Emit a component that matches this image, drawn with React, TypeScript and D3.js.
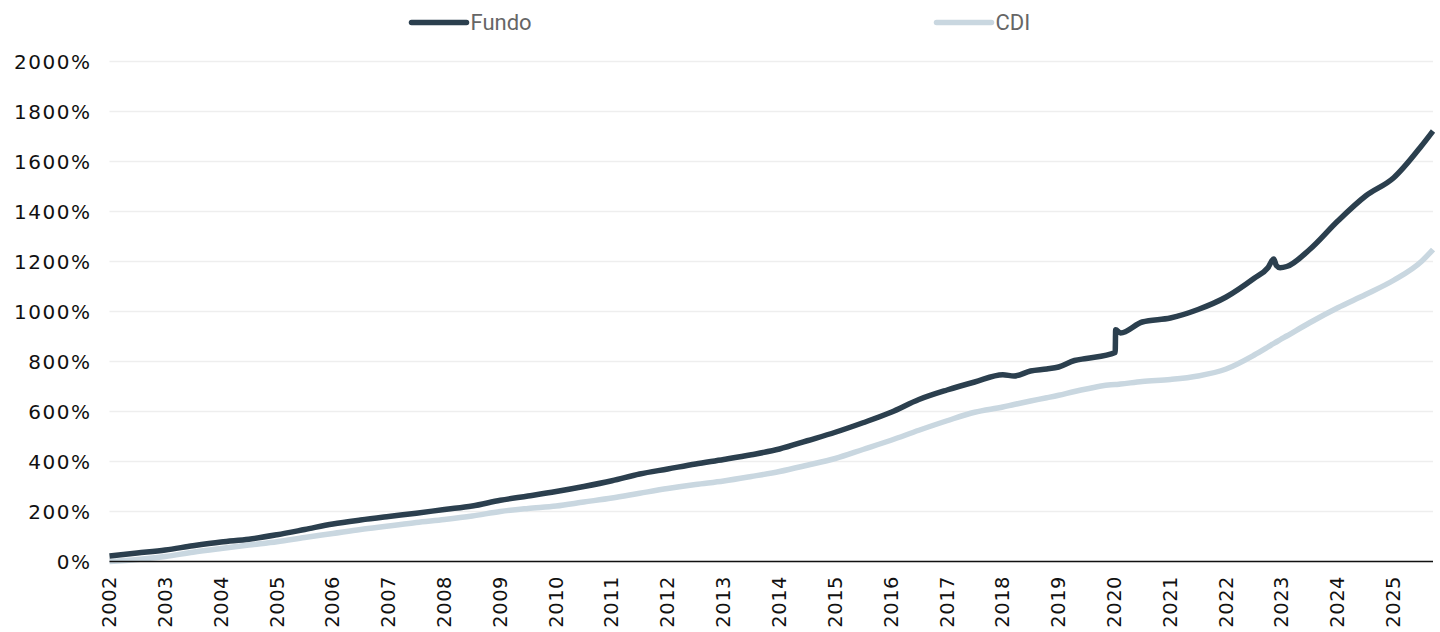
import * as React from 'react';
import * as d3 from 'd3';

const dates = [
  '2002-01-01', '2002-07-01', '2003-01-01', '2003-07-01', '2004-01-01', '2004-07-01',
  '2005-01-01', '2005-07-01', '2006-01-01', '2006-07-01', '2007-01-01', '2007-07-01',
  '2008-01-01', '2008-07-01', '2009-01-01', '2009-07-01', '2010-01-01', '2010-07-01',
  '2011-01-01', '2011-07-01', '2012-01-01', '2012-07-01', '2013-01-01', '2013-07-01',
  '2014-01-01', '2014-07-01', '2015-01-01', '2015-07-01', '2016-01-01', '2016-07-01',
  '2017-01-01', '2017-07-01', '2018-01-01', '2018-03-15', '2018-07-01', '2018-10-15',
  '2019-01-01', '2019-04-15', '2019-07-01', '2020-01-06', '2020-01-09', '2020-02-10',
  '2020-07-01', '2021-01-01', '2021-07-01', '2022-01-01', '2022-07-01', '2022-10-01',
  '2022-11-08', '2022-11-25', '2022-12-20', '2023-02-01', '2023-07-01', '2024-01-01',
  '2024-07-01', '2025-01-01', '2025-07-01', '2025-09-15',
];

const fundo = [
  22, 34, 46, 63, 78, 89,
  107, 128, 150, 166, 180, 193,
  208, 222, 245, 262, 280, 300,
  323, 350, 370, 390, 408, 427,
  450, 483, 517, 555, 597, 648,
  686, 718, 747, 742, 762, 770,
  778, 804, 812, 836, 927, 914,
  958, 974, 1008, 1058, 1132, 1175,
  1210, 1184, 1175, 1180, 1248, 1362,
  1462, 1535, 1662, 1722,
];

const cdi = [
  0, 8, 20, 37, 52, 66,
  79, 96, 112, 128, 142, 156,
  168, 182, 200, 212, 222, 238,
  254, 273, 292, 308, 322, 340,
  360, 385, 412, 448, 485, 525,
  563, 597, 618, 628, 642, 655,
  665, 680, 690, 708, 708, 710,
  720, 728, 742, 770, 825, 858,
  872, 878, 887, 902, 955, 1015,
  1068, 1125, 1200, 1248,
];

const yTicks = [0, 200, 400, 600, 800, 1000, 1200, 1400, 1600, 1800, 2000];
const years = d3.range(2002, 2026);

const seriesNames = ['Fundo', 'CDI'];
const seriesColors = ['#2b3f4e', '#c9d7e0'];

const W = 1440;
const H = 632;
const margin = { top: 61.5, right: 7, bottom: 70.5, left: 109.5 };
const axisFont = '"DejaVu Sans", sans-serif';

interface Point {
  date: Date;
  value: number;
}

const App = () => {
  const parse = d3.timeParse('%Y-%m-%d');
  const fundoData: Point[] = dates.map((d, i) => ({ date: parse(d) as Date, value: fundo[i] }));
  const cdiData: Point[] = dates.map((d, i) => ({ date: parse(d) as Date, value: cdi[i] }));

  const x = d3
    .scaleTime()
    .domain([parse(dates[0]) as Date, parse(dates[dates.length - 1]) as Date])
    .range([margin.left, W - margin.right]);

  const y = d3
    .scaleLinear()
    .domain([0, 2000])
    .range([H - margin.bottom, margin.top]);

  const line = d3
    .line<Point>()
    .x((d) => x(d.date))
    .y((d) => y(d.value))
    .curve(d3.curveMonotoneX);

  const legendX = [411.5, 936.5];

  return (
    <svg
      width={W}
      height={H}
      style={{ position: 'absolute', left: 0, top: 0, background: '#fff' }}
    >
      {/* grid */}
      {yTicks.map((t) => (
        <line
          key={'g' + t}
          x1={margin.left}
          x2={W - margin.right}
          y1={y(t)}
          y2={y(t)}
          stroke="#eeeeee"
          strokeWidth={1.5}
        />
      ))}
      {/* y labels */}
      {yTicks.map((t) => (
        <text
          key={'yl' + t}
          x={91.5}
          y={y(t)}
          textAnchor="end"
          dominantBaseline="central"
          fontFamily={axisFont}
          fontSize={20}
          letterSpacing={1.5}
          fill="#111"
        >
          {t + '%'}
        </text>
      ))}
      {/* lines */}
      <path d={line(cdiData) || ''} fill="none" stroke={seriesColors[1]} strokeWidth={5.5} strokeLinejoin="round" />
      <path d={line(fundoData) || ''} fill="none" stroke={seriesColors[0]} strokeWidth={5.5} strokeLinejoin="round" />
      {/* x axis */}
      <line
        x1={margin.left}
        x2={W - margin.right}
        y1={y(0)}
        y2={y(0)}
        stroke="#111"
        strokeWidth={1.6}
      />
      {years.map((yr) => {
        const px = x(new Date(yr, 0, 1));
        return (
          <text
            key={'x' + yr}
            transform={`translate(${px},576) rotate(-90)`}
            textAnchor="end"
            dominantBaseline="central"
            fontFamily={axisFont}
            fontSize={19.5}
            letterSpacing={0.5}
            fill="#111"
          >
            {yr}
          </text>
        );
      })}
      {/* legend */}
      {seriesNames.map((name, i) => (
        <g key={name}>
          <line
            x1={legendX[i]}
            x2={legendX[i] + 55}
            y1={22.5}
            y2={22.5}
            stroke={seriesColors[i]}
            strokeWidth={5.5}
            strokeLinecap="round"
          />
          <text
            x={legendX[i] + 59}
            y={22.5}
            dominantBaseline="central"
            fontFamily="Roboto, sans-serif"
            fontSize={22}
            fill="#666"
          >
            {name}
          </text>
        </g>
      ))}
    </svg>
  );
};

export default App;
